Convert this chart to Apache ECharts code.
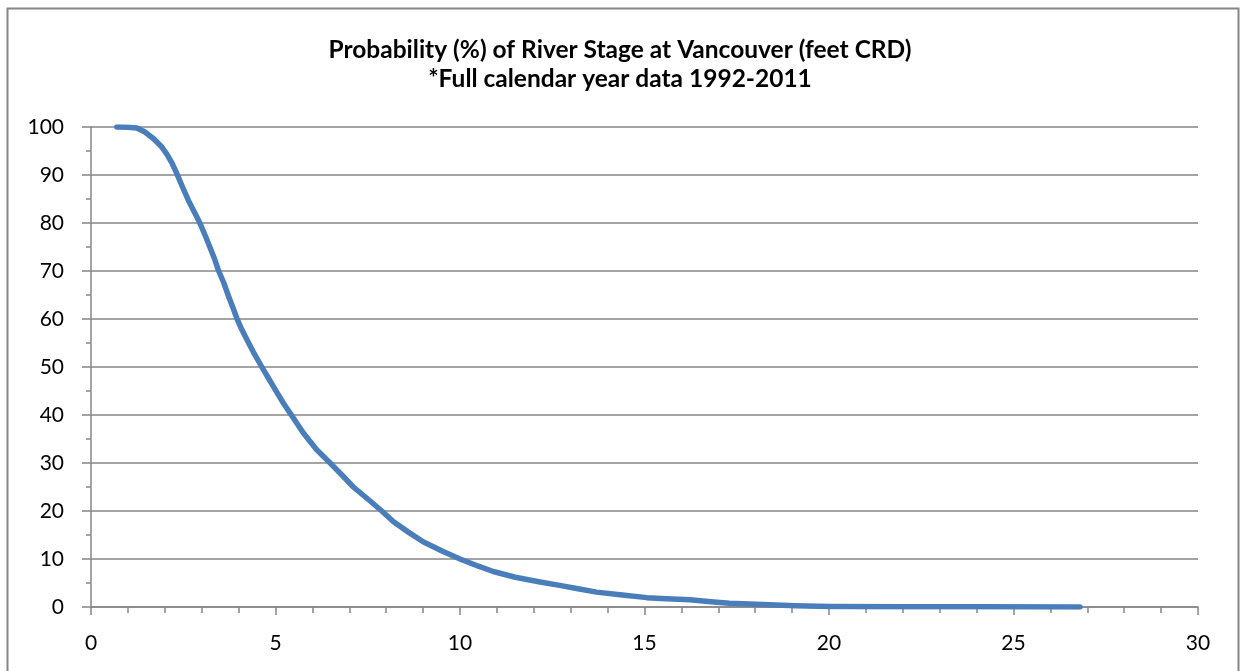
<!DOCTYPE html>
<html>
<head>
<meta charset="utf-8">
<script src="https://cdn.jsdelivr.net/npm/echarts@6/dist/echarts.min.js"></script>
<style>html,body{margin:0;padding:0;background:#fff}#c{width:1240px;height:671px}</style>
</head>
<body>
<div id="c"></div>
<script>
const titleLines = ['Probability (%) of River Stage at Vancouver (feet CRD)', '*Full calendar year data 1992-2011'];
const stageFeet = [0.70,1.0,1.24,1.45,1.69,1.9,2.05,2.2,2.32,2.48,2.64,2.8,2.95,3.1,3.22,3.35,3.45,3.6,3.72,3.85,3.95,4.08,4.22,4.4,4.63,4.83,5.03,5.22,5.43,5.75,6.11,6.48,6.8,7.11,7.5,7.88,8.19,8.6,9.0,9.5,10.0,10.5,10.9,11.5,12.17,12.7,13.2,13.7,14.4,15.06,15.6,16.23,16.8,17.3,18.2,19.1,20,22,24,26.8];
const probabilityPct = [100,99.95,99.8,99,97.6,96,94.4,92.4,90.4,87.5,84.7,82.3,80,77.3,75,72.5,70.2,67.5,64.9,62.3,60.2,57.9,55.8,53.1,50,47.4,44.8,42.4,40,36.3,32.8,30,27.5,25,22.5,20,17.8,15.6,13.6,11.7,10,8.5,7.4,6.2,5.2,4.5,3.8,3.1,2.5,1.95,1.7,1.5,1.1,0.8,0.5,0.25,0.12,0.06,0.03,0.01];

const chart = echarts.init(document.getElementById('c'), null, {renderer: 'canvas'});
const gray = '#868686';
const font = 'Lato, "Open Sans", sans-serif';
chart.setOption({
  animation: false,
  backgroundColor: '#fff',
  graphic: [{
    type: 'rect', silent: true, z: -1,
    shape: {x: 7.5, y: 8.5, width: 1231, height: 700},
    style: {fill: 'none', stroke: gray, lineWidth: 2}
  }],
  title: {
    text: titleLines.join('\n'),
    left: 'center', top: 31,
    textStyle: {fontFamily: font, fontWeight: 'bold', fontSize: 24.5, lineHeight: 29, color: '#000'}
  },
  grid: {left: 91, right: 42, top: 127, bottom: 64, containLabel: false},
  xAxis: {
    type: 'value', min: 0, max: 30, interval: 5,
    axisLine: {show: true, onZero: false, lineStyle: {color: gray, width: 1.5}},
    axisTick: {show: true, length: 8, lineStyle: {color: gray, width: 1.5}},
    minorTick: {show: true, splitNumber: 5, length: 6, lineStyle: {color: gray, width: 1.5}},
    splitLine: {show: false},
    axisLabel: {margin: 26, fontFamily: font, fontSize: 21, color: '#000'}
  },
  yAxis: {
    type: 'value', min: 0, max: 100, interval: 10,
    axisLine: {show: true, lineStyle: {color: gray, width: 1.5}},
    axisTick: {show: true, length: 9, lineStyle: {color: gray, width: 1.5}},
    minorTick: {show: true, splitNumber: 2, length: 5, lineStyle: {color: gray, width: 1.5}},
    splitLine: {show: true, lineStyle: {color: gray, width: 1.5}},
    axisLabel: {margin: 27, fontFamily: font, fontSize: 21, color: '#000'}
  },
  series: [{
    type: 'line',
    data: stageFeet.map((x, i) => [x, probabilityPct[i]]),
    showSymbol: false,
    smooth: false,
    lineStyle: {color: '#4a7ebb', width: 5.5, join: 'round', cap: 'round'},
    itemStyle: {color: '#4a7ebb'}
  }]
});
</script>
</body>
</html>
